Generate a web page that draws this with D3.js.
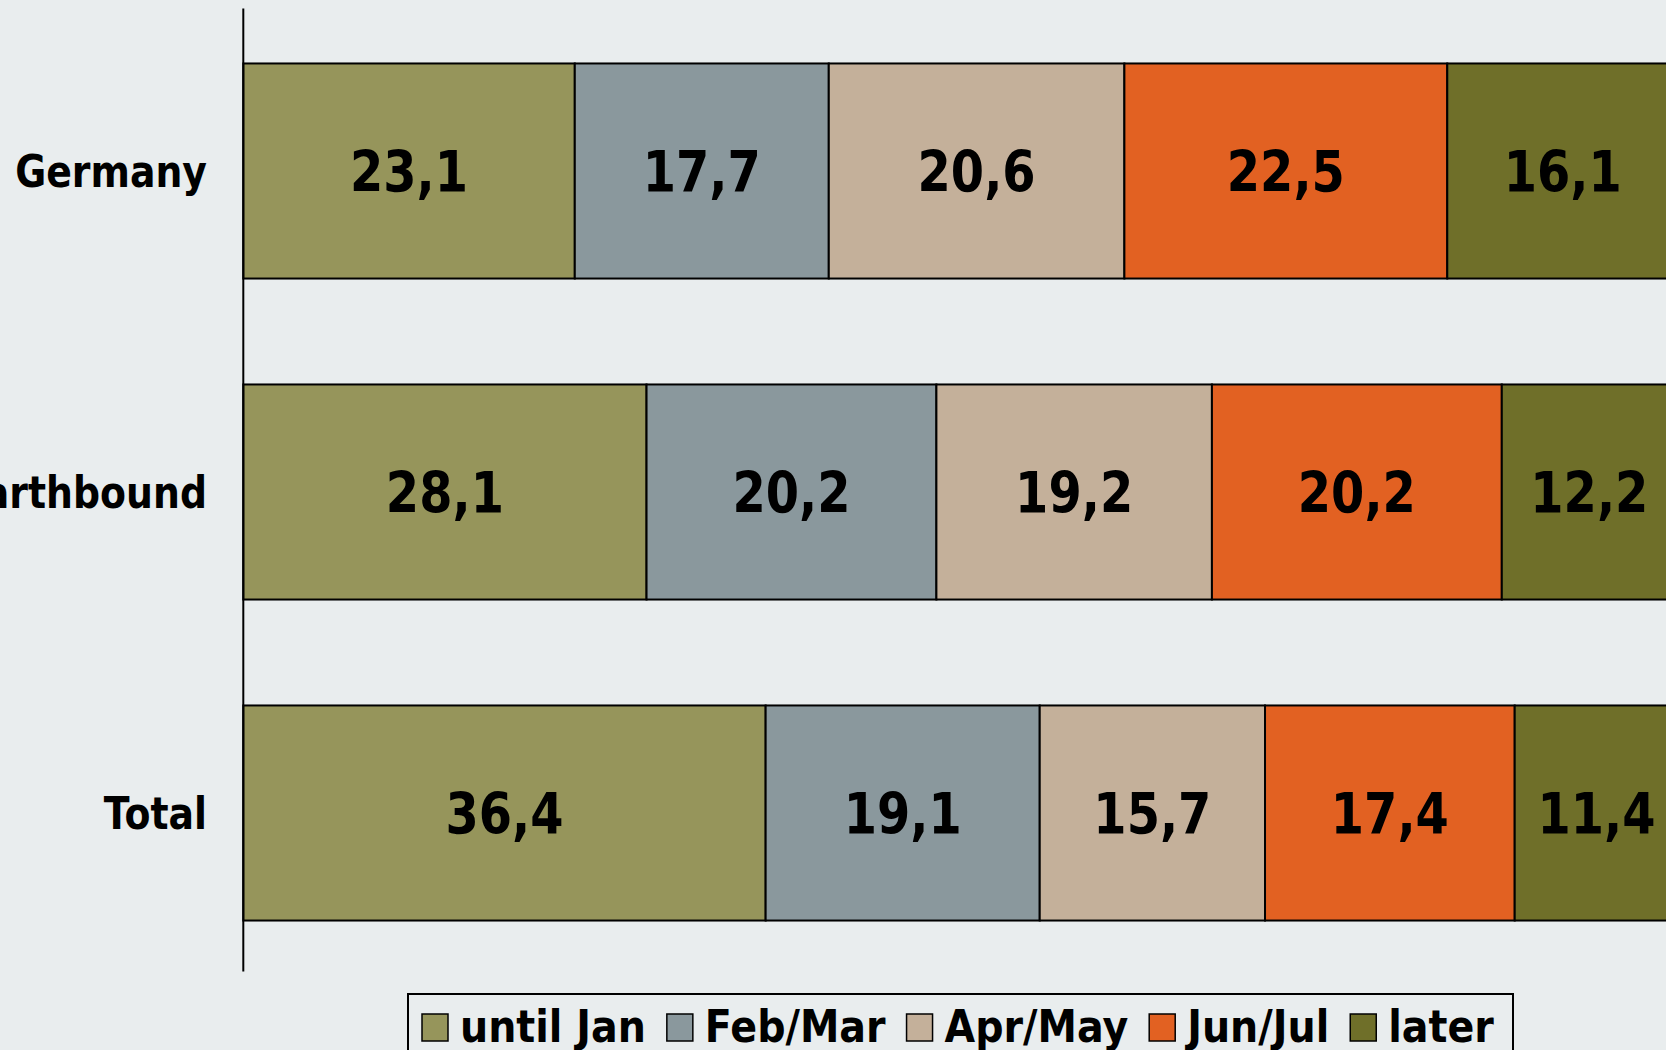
<!DOCTYPE html>
<html>
<head>
<meta charset="utf-8">
<script src="https://cdn.jsdelivr.net/npm/d3@7"></script>
<style>
  html, body { margin: 0; padding: 0; background: #e9edee; overflow: hidden; }
  svg { display: block; font-family: "DejaVu Sans", Verdana, sans-serif; font-weight: bold; }
</style>
</head>
<body>
<div id="chart"></div>
<script>
  var categories = ['Germany', 'Earthbound', 'Total'];
  var seriesNames = ['until Jan', 'Feb/Mar', 'Apr/May', 'Jun/Jul', 'later'];
  var seriesColors = ['#96955b', '#8a989d', '#c4b09a', '#e26122', '#6f6f29'];
  // one row per category, one column per series
  var untilJan = [23.1, 28.1, 36.4];
  var febMar = [17.7, 20.2, 19.1];
  var aprMay = [20.6, 19.2, 15.7];
  var junJul = [22.5, 20.2, 17.4];
  var later = [16.1, 12.2, 11.4];

  var w = 1666;
  var h = 1050;
  var seriesValues = [untilJan, febMar, aprMay, junJul, later];

  var rows = categories.map(function (c, i) {
    var row = { cat: c };
    seriesNames.forEach(function (s, j) { row[s] = seriesValues[j][i]; });
    return row;
  });

  var stacked = d3.stack().keys(seriesNames)(rows);

  var x = d3.scaleLinear().domain([0, 100]).range([243.3, 1678.3]);
  var y = d3.scaleBand().domain(categories).range([10.5, 973.5]).paddingInner(0.33).paddingOuter(0.165);

  var svg = d3.select('#chart').append('svg')
    .attr('width', w).attr('height', h);

  svg.append('rect').attr('width', w).attr('height', h).attr('fill', '#e9edee');

  // bars
  var layer = svg.selectAll('g.layer')
    .data(stacked).enter()
    .append('g').attr('class', 'layer')
    .attr('fill', function (d, i) { return seriesColors[i]; });

  layer.selectAll('rect')
    .data(function (d) { return d; }).enter()
    .append('rect')
    .attr('x', function (d) { return x(d[0]); })
    .attr('y', function (d) { return y(d.data.cat); })
    .attr('width', function (d) { return x(d[1]) - x(d[0]); })
    .attr('height', y.bandwidth())
    .attr('stroke', '#000')
    .attr('stroke-width', 2);

  // value labels
  layer.selectAll('text')
    .data(function (d) { return d; }).enter()
    .append('text')
    .attr('text-anchor', 'middle')
    .attr('font-size', 57)
    .attr('fill', '#000')
    .attr('transform', function (d) {
      var cx = (x(d[0]) + x(d[1])) / 2;
      var cy = y(d.data.cat) + y.bandwidth() / 2 + 20.5;
      return 'translate(' + cx + ',' + cy + ') scale(0.84,1)';
    })
    .text(function (d) { return d3.format('.1f')(d[1] - d[0]).replace('.', ','); });

  // category axis
  svg.append('line')
    .attr('x1', x(0)).attr('x2', x(0))
    .attr('y1', 8.5).attr('y2', 971.5)
    .attr('stroke', '#000').attr('stroke-width', 2);

  svg.selectAll('text.cat')
    .data(categories).enter()
    .append('text').attr('class', 'cat')
    .attr('text-anchor', 'end')
    .attr('font-size', 44)
    .attr('transform', function (d) {
      return 'translate(207,' + (y(d) + y.bandwidth() / 2 + 16) + ') scale(0.86,1)';
    })
    .text(function (d) { return d; });

  // legend
  var legend = svg.append('g').attr('class', 'legend');
  legend.append('rect')
    .attr('x', 408).attr('y', 994)
    .attr('width', 1105).attr('height', 90)
    .attr('fill', '#e9edee').attr('stroke', '#000').attr('stroke-width', 2);

  var lx = 422;
  seriesNames.forEach(function (s, i) {
    legend.append('rect')
      .attr('x', lx).attr('y', 1014)
      .attr('width', 26).attr('height', 27)
      .attr('fill', seriesColors[i])
      .attr('stroke', '#000').attr('stroke-width', 1.5);
    var t = legend.append('text')
      .attr('font-size', 44)
      .attr('transform', 'translate(' + (lx + 38) + ',1042) scale(0.9,1)')
      .text(s);
    lx += 38 + t.node().getComputedTextLength() * 0.9 + 21;
  });
</script>
</body>
</html>
